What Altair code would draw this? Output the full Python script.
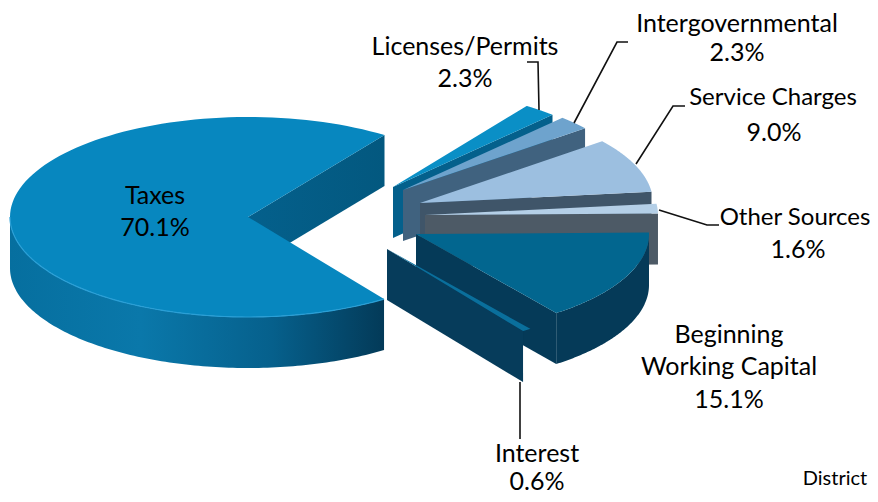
import math
import altair as alt
import pandas as pd

categories = ["Taxes", "Licenses/Permits", "Intergovernmental", "Service Charges",
              "Other Sources", "Beginning Working Capital", "Interest"]
shares = [70.1, 2.3, 2.3, 9.0, 1.6, 15.1, 0.6]

# layout of the 3-D drawing (page pixels)
CX, CY, DEPTH = 248, 217, 51
START = 55.0
RADII = {"Taxes": (238, 100), "Interest": (238, 100)}
SLICE_R = (233, 99)
EXPLODE = {"Taxes": (0, 0), "Licenses/Permits": (145, -30), "Intergovernmental": (155, -27),
           "Service Charges": (172, -14), "Other Sources": (177, -2),
           "Beginning Working Capital": (168, 17), "Interest": (139, 32)}
TOP = {"Taxes": "#0787bf", "Licenses/Permits": "#0a8fc6", "Intergovernmental": "#6ea3cd",
       "Service Charges": "#9cbfe0", "Other Sources": "#b4cfe7",
       "Beginning Working Capital": "#02668f", "Interest": "#0a6f9c"}
BAND = {"Taxes": "#03587f", "Licenses/Permits": "#04608c", "Intergovernmental": "#40627f",
        "Service Charges": "#3f5569", "Other Sources": "#4d5a66",
        "Beginning Working Capital": "#053a58", "Interest": "#063c5b"}

total = sum(shares)
spans = {}
a = START
for c, s in zip(categories[1:] + categories[:1], shares[1:] + shares[:1]):
    spans[c] = (a, a - s / total * 360)
    a = spans[c][1]


def arc(c, a0, a1, dz=0, n=120):
    ox, oy = EXPLODE[c]
    rx, ry = RADII.get(c, SLICE_R)
    return [(CX + ox + rx * math.cos(math.radians(a0 + (a1 - a0) * i / n)),
             CY + oy - ry * math.sin(math.radians(a0 + (a1 - a0) * i / n)) + dz)
            for i in range(n + 1)]


def apex(c, dz=0):
    ox, oy = EXPLODE[c]
    return (CX + ox, CY + oy + dz)


X = alt.Scale(domain=[8, 870], range=[0, 862], nice=False, zero=False)
Y = alt.Scale(domain=[8, 494], range=[0, 486], nice=False, zero=False)


def frame(pts):
    df = pd.DataFrame(pts, columns=["x", "y"])
    df["o"] = range(len(df))
    return df


def enc(ch):
    return ch.encode(x=alt.X("x:Q", scale=X, axis=None), y=alt.Y("y:Q", scale=Y, axis=None), order="o:Q")


def poly(pts, fill):
    return enc(alt.Chart(frame(pts)).mark_line(interpolate="linear-closed", fill=fill,
                                               stroke="transparent", strokeWidth=0))


def edge_face(c, ang, fill):
    tip = arc(c, ang, ang, n=1)[0]
    return poly([apex(c), tip, (tip[0], tip[1] + DEPTH), apex(c, DEPTH)], fill)


def grad(stops):
    return alt.Gradient(gradient="linear", x1=0, x2=1, y1=0, y2=0,
                        stops=[alt.GradientStop(offset=o, color=col) for o, col in stops])


layers = []
# Taxes: spans from the lower cut (a0) round the back to the upper cut (a1)
c = "Taxes"
a0, a1 = spans[c]
layers.append(edge_face(c, a1, grad([(0, "#04608c"), (1, "#03587f")])))
rim = arc(c, -180, a0)
layers.append(poly(rim + [(x, y + DEPTH) for x, y in reversed(rim)],
                   grad([(0, "#066f9f"), (0.35, "#0a78aa"), (0.7, "#06608c"), (1, "#033a58")])))
layers.append(poly([apex(c)] + arc(c, a0, a1), TOP[c]))
layers.append(enc(alt.Chart(frame(rim)).mark_line(color="#2a9fd6", strokeWidth=1.2)))

# exploded slices, back to front
for c in categories[1:5]:
    a0, a1 = spans[c]
    layers.append(edge_face(c, a1, BAND[c]))
    layers.append(poly([apex(c)] + arc(c, a0, a1), TOP[c]))

c = "Beginning Working Capital"
a0, a1 = spans[c]
rim = arc(c, a0, a1)
layers.append(poly(rim + [(x, y + DEPTH) for x, y in reversed(rim)], BAND[c]))
layers.append(edge_face(c, a1, BAND[c]))
layers.append(poly([apex(c)] + arc(c, a0, a1), TOP[c]))

c = "Interest"
a0, a1 = spans[c]
layers.append(edge_face(c, a1, BAND[c]))
layers.append(poly([apex(c)] + arc(c, a0, a1), TOP[c]))

# leader lines
leaders = [
    [(527, 62), (538, 62), (539, 110)],
    [(628, 42), (617, 42), (574, 123)],
    [(685, 106), (673, 106), (636, 164)],
    [(719, 225), (707, 225), (659, 210)],
    [(520, 382), (520, 439)],
]
for pts in leaders:
    layers.append(enc(alt.Chart(frame(pts)).mark_line(color="#111111", strokeWidth=1.6)))

# labels
label_lines = [
    ("Taxes", 155, 196), ("70.1%", 155, 228),
    ("Licenses/Permits", 465, 47), ("2.3%", 465, 79),
    ("Intergovernmental", 737, 24), ("2.3%", 737, 53),
    ("9.0%", 774, 133),
    ("1.6%", 798, 250),
    ("Beginning", 729, 335), ("Working Capital", 729, 367), ("15.1%", 729, 400),
    ("Interest", 537, 454), ("0.6%", 537, 482),
]
labels = pd.DataFrame(label_lines, columns=["t", "x", "y"])
text_enc = dict(x=alt.X("x:Q", scale=X, axis=None), y=alt.Y("y:Q", scale=Y, axis=None), text="t:N")
layers.append(alt.Chart(labels).mark_text(font="Lato", fontSize=25, color="#000000").encode(**text_enc))
other = pd.DataFrame({"t": ["Other Sources", "Service Charges"], "x": [795, 773], "y": [218, 98]})
layers.append(alt.Chart(other).mark_text(font="Lato", fontSize=24, color="#000000").encode(**text_enc))
note = pd.DataFrame({"t": ["District"], "x": [835], "y": [479]})
layers.append(alt.Chart(note).mark_text(font="Lato", fontSize=20, color="#000000").encode(**text_enc))

chart = alt.layer(*layers).properties(
    width=862, height=486, padding=0, autosize=alt.AutoSizeParams(type="none"),
    background="white").configure_view(stroke=None)
chart.save("out.html", embed_options={"renderer": "svg", "actions": False})
